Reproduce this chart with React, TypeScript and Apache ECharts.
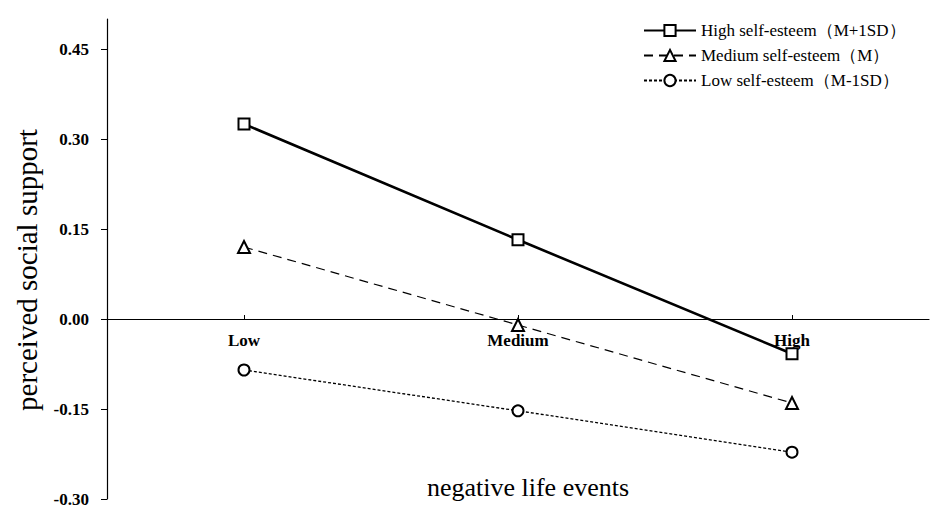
import React, { useEffect, useRef } from "react";
import * as echarts from "echarts";

const categories = ["Low", "Medium", "High"];
const seriesNames = [
  "High self-esteem（M+1SD）",
  "Medium self-esteem（M）",
  "Low self-esteem（M-1SD）",
];
const highValues = [0.325, 0.132, -0.058];
const mediumValues = [0.12, -0.01, -0.14];
const lowValues = [-0.085, -0.153, -0.222];
const yTicks = [-0.3, -0.15, 0, 0.15, 0.3, 0.45];
const yMin = -0.3;
const yMax = 0.5;
const xTitle = "negative life events";
const yTitle = "perceived social support";

const SERIF = '"Liberation Serif", "DejaVu Serif", serif';

export default function App() {
  const ref = useRef<HTMLDivElement>(null);
  useEffect(() => {
    document.body.style.margin = "0";
    if (!ref.current) return;
    const chart = echarts.init(ref.current, null, { renderer: "svg" });
    const gridTop = 19;
    const gridBottom = 17;
    const gridHeight = 516 - gridTop - gridBottom;
    const zeroOffset = -gridHeight * ((0 - yMin) / (yMax - yMin));
    const mk = (
      name: string,
      data: number[],
      symbol: string,
      width: number,
      type: any,
      size: number
    ) => ({
      name,
      type: "line",
      data,
      symbol,
      symbolSize: size,
      lineStyle: { color: "#000", width, type },
      itemStyle: { color: "#000", borderColor: "#000", borderWidth: 1.3 },
      z: 3,
    });
    chart.setOption({
      animation: false,
      backgroundColor: "#fff",
      textStyle: { fontFamily: SERIF },
      grid: { left: 107, right: 6, top: gridTop, bottom: gridBottom, outerBoundsMode: "none", containLabel: false },
      legend: {
        orient: "vertical",
        left: 638,
        top: 17,
        itemWidth: 52,
        itemHeight: 14,
        itemGap: 8,
        textStyle: { fontFamily: SERIF, fontSize: 17, color: "#000" },
        data: seriesNames,
      },
      xAxis: {
        type: "category",
        data: categories,
        boundaryGap: true,
        offset: zeroOffset,
        axisLine: { onZero: false, lineStyle: { color: "#000", width: 1.2 } },
        axisTick: { show: true, inside: true, length: 4, alignWithLabel: true, lineStyle: { color: "#000" } },
        axisLabel: {
          fontFamily: SERIF,
          fontWeight: "bold",
          fontSize: 17,
          color: "#000",
          margin: 13,
        },
        splitLine: { show: false },
      },
      yAxis: {
        type: "value",
        min: yMin,
        max: yMax,
        interval: 0.15,
        axisLine: { show: true, lineStyle: { color: "#000", width: 1.2 } },
        axisTick: { show: true, length: 6, customValues: yTicks, lineStyle: { color: "#000" } },
        axisLabel: {
          customValues: yTicks,
          fontFamily: SERIF,
          fontWeight: "bold",
          fontSize: 17,
          color: "#000",
          margin: 18,
          formatter: (v: number) => (Math.abs(v) < 1e-9 ? "0.00" : v.toFixed(2)),
        },
        splitLine: { show: false },
      },
      graphic: [
        {
          type: "text",
          x: 528,
          y: 487,
          style: {
            text: xTitle,
            font: `26px ${SERIF}`,
            fill: "#000",
            textAlign: "center",
            textVerticalAlign: "middle",
          },
        },
        {
          type: "text",
          x: 27,
          y: 270,
          rotation: Math.PI / 2,
          style: {
            text: yTitle,
            font: `29px ${SERIF}`,
            fill: "#000",
            textAlign: "center",
            textVerticalAlign: "middle",
          },
        },
      ],
      series: [
        mk(seriesNames[0], highValues, "emptyRect", 2.6, "solid", 11),
        mk(seriesNames[1], mediumValues, "emptyTriangle", 1.2, [9, 6], 12),
        mk(seriesNames[2], lowValues, "emptyCircle", 1.3, [3, 2], 11),
      ],
    });
    return () => chart.dispose();
  }, []);
  return <div ref={ref} style={{ width: 935, height: 516 }} />;
}
